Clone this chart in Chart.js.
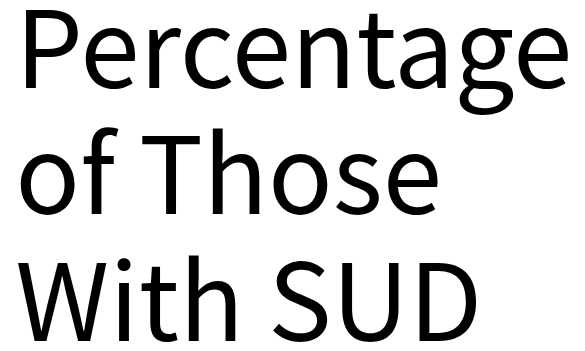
<!DOCTYPE html>
<html>
<head>
<meta charset="utf-8">
<script src="https://cdn.jsdelivr.net/npm/chart.js"></script>
<style>
  html, body { margin: 0; padding: 0; background: #fff; }
  #wrap { width: 585px; height: 351px; position: relative; }
</style>
</head>
<body>
<div id="wrap"><canvas id="SUDChart"></canvas></div>
<script>
const titleLines = ['Percentage', 'of Those', 'With SUD'];
const categories = [];
const sudValues = [];

const ctxSUDChart = document.getElementById('SUDChart');

new Chart(ctxSUDChart, {
  type: 'bar',
  data: {
    labels: categories,
    datasets: [{
      label: 'With SUD',
      data: sudValues,
      backgroundColor: '#000000'
    }]
  },
  options: {
    responsive: true,
    maintainAspectRatio: false,
    animation: false,
    layout: { padding: { left: 15.3, top: -16 } },
    scales: {
      x: { display: false },
      y: { display: false }
    },
    plugins: {
      legend: { display: false },
      tooltip: { enabled: false },
      title: {
        display: true,
        text: titleLines,
        align: 'start',
        color: '#000000',
        padding: { top: 0, bottom: 0 },
        font: {
          family: '"Noto Sans CJK SC", "Source Sans Pro", sans-serif',
          size: 107,
          weight: 'normal',
          lineHeight: 1.182
        }
      }
    }
  }
});
</script>
</body>
</html>
